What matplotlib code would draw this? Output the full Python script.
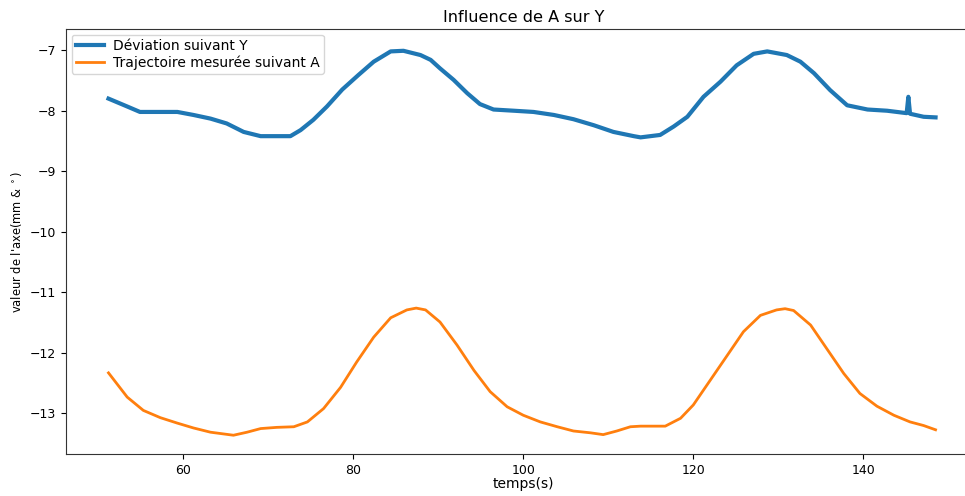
import matplotlib
matplotlib.use("Agg")
import matplotlib.pyplot as plt

# Déviation suivant Y (blue)
t_dev = [51.2, 53.4, 54.9, 57.3, 59.3, 61.2, 63.2, 65.1, 67.1, 69.1, 71.0, 72.6,
         73.8, 75.3, 76.9, 78.7, 80.6, 82.4, 84.4, 85.9, 87.9, 89.1, 90.2, 91.8,
         93.4, 94.9, 96.5, 98.9, 101.2, 103.6, 105.9, 108.3, 110.6, 113.0, 113.8,
         116.1, 117.7, 119.3, 121.2, 123.2, 125.1, 127.1, 128.7, 131.0, 132.6,
         134.2, 136.1, 138.1, 140.5, 142.8, 145.1, 145.3, 145.5, 147.1, 148.5]
v_dev = [-7.80, -7.93, -8.02, -8.02, -8.02, -8.07, -8.13, -8.21, -8.35, -8.42, -8.42, -8.42,
         -8.32, -8.15, -7.93, -7.65, -7.41, -7.19, -7.02, -7.01, -7.08, -7.16, -7.30, -7.49,
         -7.71, -7.89, -7.98, -8.00, -8.02, -8.07, -8.14, -8.24, -8.35, -8.42, -8.44,
         -8.40, -8.26, -8.10, -7.77, -7.52, -7.25, -7.06, -7.02, -7.08, -7.19,
         -7.38, -7.66, -7.91, -7.98, -8.00, -8.04, -7.77, -8.05, -8.10, -8.11]

# Trajectoire mesurée suivant A (orange)
t_traj = [51.2, 53.4, 55.3, 57.3, 59.3, 61.2, 63.2, 65.9, 67.5, 69.1, 71.0, 73.0,
          74.6, 76.5, 78.5, 80.4, 82.4, 84.4, 86.3, 87.4, 88.5, 90.2, 92.2, 94.2, 96.1,
          98.1, 100.0, 102.0, 104.0, 105.9, 107.9, 109.4, 111.0, 112.6, 113.8,
          116.7, 118.5, 120.0, 122.0, 124.0, 125.9, 127.9, 129.8, 130.8, 131.8, 133.8,
          135.7, 137.7, 139.6, 141.6, 143.6, 145.5, 147.1, 148.5]
v_traj = [-12.33, -12.73, -12.95, -13.07, -13.16, -13.24, -13.31, -13.36, -13.31, -13.25, -13.23, -13.22,
          -13.14, -12.92, -12.57, -12.15, -11.74, -11.42, -11.29, -11.26, -11.29, -11.49, -11.87, -12.29, -12.64,
          -12.89, -13.03, -13.14, -13.22, -13.29, -13.32, -13.35, -13.29, -13.22, -13.21,
          -13.21, -13.08, -12.86, -12.45, -12.04, -11.65, -11.38, -11.29, -11.27, -11.30, -11.54,
          -11.93, -12.34, -12.67, -12.88, -13.03, -13.14, -13.20, -13.27]

x_ticks = [60, 80, 100, 120, 140]
y_ticks = [-7, -8, -9, -10, -11, -12, -13]

fig = plt.figure(figsize=(9.65, 4.96), dpi=100)
# axes runs off the right edge of the canvas (cropped chart)
ax = fig.add_axes([66 / 965, 42 / 496, 899 / 965, 425 / 496])

ax.plot(t_dev, v_dev, color="#1f77b4", lw=3.0, label="Déviation suivant Y")
ax.plot(t_traj, v_traj, color="#ff7f0e", lw=2.0, label="Trajectoire mesurée suivant A")

ax.set_xlim(46.2, 46.2 + 899 / 8.5)
ax.set_ylim(-13.67, -6.65)
ax.set_xticks(x_ticks)
ax.set_yticks(y_ticks)
ax.tick_params(labelsize=9)
for s in ax.spines.values():
    s.set_color("#333333")
ax.spines["right"].set_visible(False)

ax.set_title("Influence de A sur Y", fontsize=11.6, pad=5, x=(981 - 66) / 2 / 899)
ax.set_xlabel("temps(s)", fontsize=10, labelpad=2)
ax.xaxis.set_label_coords((981 - 66) / 2 / 899, -0.055)
ax.set_ylabel("valeur de l'axe(mm & $^\\circ$)", fontsize=8.3)
ax.legend(loc="upper left", fontsize=10, handlelength=2.0, borderaxespad=0.4,
          labelspacing=0.2, borderpad=0.3, handletextpad=0.7)

fig.savefig("out.png", dpi=100)
